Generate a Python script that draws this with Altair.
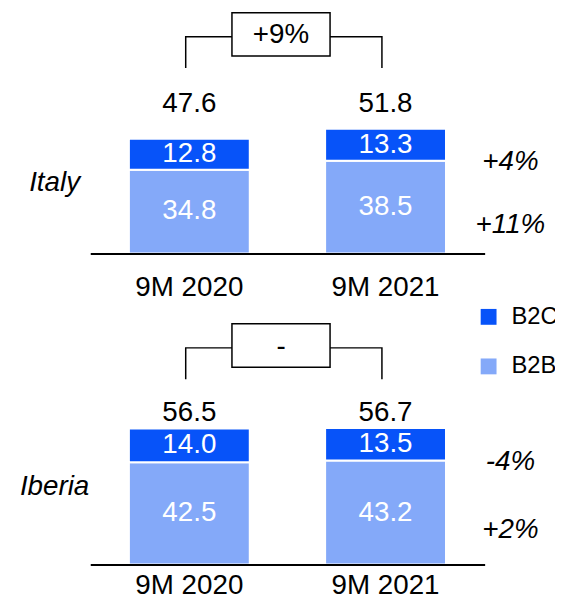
import altair as alt
import pandas as pd

FONT = "Liberation Sans"
C_B2C = "#0753f9"
C_B2B = "#84a9f9"

regions = ["Italy", "Iberia"]
periods = ["9M 2020", "9M 2021"]
segments = ["B2C", "B2B"]

italy_b2b = [34.8, 38.5]
italy_b2c = [12.8, 13.3]
italy_total = [47.6, 51.8]
iberia_b2b = [42.5, 43.2]
iberia_b2c = [14.0, 13.5]
iberia_total = [56.5, 56.7]

total_growth = ["+9%", "-"]
b2c_growth = ["+4%", "-4%"]
b2b_growth = ["+11%", "+2%"]

W, H = 398, 243
YDOM = [0, 100]


def panel(region, b2b, b2c, total, g_total, g_b2c, g_b2b, region_y, total_y,
          label_pad, show_legend):
    rows = []
    for i, p in enumerate(periods):
        rows.append(dict(period=p, segment="B2B", start=0, end=b2b[i],
                         label=f"{b2b[i]:.1f}", ord=0))
        rows.append(dict(period=p, segment="B2C", start=b2b[i], end=b2b[i] + b2c[i],
                         label=f"{b2c[i]:.1f}", ord=1))
    df = pd.DataFrame(rows)
    df["mid"] = (df["start"] + df["end"]) / 2

    xscale = alt.Scale(domain=periods, paddingInner=0.384, paddingOuter=0.197)
    yscale = alt.Scale(domain=YDOM, nice=False)

    xax = alt.Axis(title=None, labelFontSize=28, labelFont=FONT, labelColor="black",
                   labelPadding=label_pad, ticks=False, domain=True, domainColor="black",
                   domainWidth=2, labelAngle=0, grid=False, zindex=1)

    cscale = alt.Scale(domain=segments, range=[C_B2C, C_B2B])
    if show_legend:
        color = alt.Color("segment:N", scale=cscale, legend=alt.Legend(
            title=None, orient="none", legendX=390, legendY=-19,
            symbolType="square", symbolSize=256, symbolStrokeWidth=0,
            labelFontSize=24, labelFont=FONT, labelColor="black",
            labelOffset=11, rowPadding=26))
    else:
        color = alt.Color("segment:N", scale=cscale, legend=None)

    base = alt.Chart(df)
    bars = base.mark_bar(stroke="white", strokeWidth=2).encode(
        x=alt.X("period:N", scale=xscale, axis=xax),
        y=alt.Y("start:Q", scale=yscale, axis=None),
        y2="end:Q",
        color=color,
    )
    seg_labels = base.mark_text(color="white", fontSize=28, font=FONT, baseline="middle").encode(
        x=alt.X("period:N"), y=alt.Y("mid:Q"), text="label:N")

    tdf = pd.DataFrame(dict(period=periods, total=[f"{t:.1f}" for t in total]))
    totals = alt.Chart(tdf).mark_text(color="black", fontSize=28, font=FONT,
                                     baseline="middle").encode(
        x=alt.X("period:N"), y=alt.Y(datum=total_y), text="total:N")

    bdf = pd.DataFrame(dict(period=[periods[0], periods[0], periods[1], periods[1]],
                            yv=[77, 90, 90, 77], k=[0, 1, 2, 3]))
    bracket = alt.Chart(bdf).mark_line(color="black", strokeWidth=1.5).encode(
        x=alt.X("period:N", bandPosition=0.47), y=alt.Y("yv:Q"), order="k:Q")

    box = alt.Chart(pd.DataFrame(dict(t=[g_total]))).mark_rect(
        fill="white", stroke="black", strokeWidth=1.5).encode(
        x=alt.value(143), x2=alt.value(242), y=alt.Y(datum=82), y2=alt.Y2(datum=100))
    box_text = alt.Chart(pd.DataFrame(dict(t=[g_total]))).mark_text(
        color="black", fontSize=28, font=FONT, baseline="middle").encode(
        x=alt.value(192.5), y=alt.Y(datum=90.5), text="t:N")

    gdf = df[df["period"] == periods[1]].copy()
    gdf["g"] = [g_b2b if s == "B2B" else g_b2c for s in gdf["segment"]]
    growth = alt.Chart(gdf).mark_text(color="black", fontSize=28, font=FONT,
                                     fontStyle="italic", baseline="middle", dy=18).encode(
        x=alt.value(424), y=alt.Y("mid:Q"), text="g:N")

    region_lbl = alt.Chart(pd.DataFrame(dict(r=[region]))).mark_text(
        color="black", fontSize=28, font=FONT, fontStyle="italic", baseline="middle",
        align="center").encode(x=alt.value(-36), y=alt.Y(datum=region_y), text="r:N")

    return alt.layer(bars, seg_labels, totals, bracket, box, box_text, growth,
                     region_lbl).properties(width=W, height=H)


italy = panel("Italy", italy_b2b, italy_b2c, italy_total,
              total_growth[0], b2c_growth[0], b2b_growth[0], 29.3, 62, 20, False)
iberia = panel("Iberia", iberia_b2b, iberia_b2c, iberia_total,
               total_growth[1], b2c_growth[1], b2b_growth[1], 32.3, 63, 7, True)

chart = alt.vconcat(italy, iberia, spacing=71, bounds="flush").resolve_scale(
    color="independent"
).resolve_legend(color="independent").properties(
    padding={"left": 11, "top": 1, "right": -3, "bottom": -7}
).configure_view(stroke=None)

chart.save("out.html", embed_options={"renderer": "svg", "actions": False})
